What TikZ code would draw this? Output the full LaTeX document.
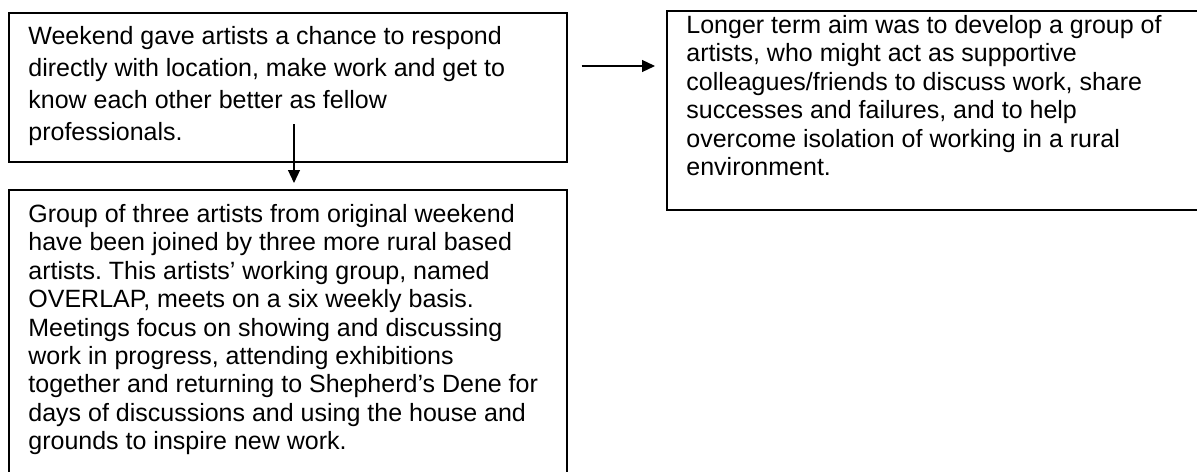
\documentclass[tikz,border=0pt]{standalone}
\usepackage{fontspec}
\setmainfont{Liberation Sans}
\usetikzlibrary{arrows.meta}
\frenchspacing

\begin{document}
\begin{tikzpicture}[x=0.5pt, y=-0.5pt,
    caja/.style={draw, line width=0.8pt, inner sep=0pt, anchor=north west},
    texto/.style={anchor=north west, inner sep=0pt, align=left,
        font=\fontsize{12.5pt}{14.2pt}\selectfont},
    flecha/.style={-{Triangle[length=6.5pt,width=6pt]}, line width=0.6pt}]
    \useasboundingbox (0,0) rectangle (1197,471);
    \clip (0,0) rectangle (1197,471);

    % Cajas
    \node[caja, minimum width=279pt, minimum height=74.5pt] (semana) at (8,12) {};
    \node[caja, minimum width=279pt, minimum height=156pt] (grupo) at (8,189) {};
    \node[caja, minimum width=290pt, minimum height=99.5pt] (meta) at (666,10) {};

    % Textos
    \node[texto, font=\fontsize{12.5pt}{16pt}\selectfont] (semanatxt) at (28,26) {Weekend gave artists a chance to respond\\
        directly with location, make work and get to\\
        know each other better as fellow\\
        professionals.};
    \node[texto] (grupotxt) at (28,204) {Group of three artists from original weekend\\
        have been joined by three more rural based\\
        artists. This artists’ working group, named\\
        OVERLAP, meets on a six weekly basis.\\
        Meetings focus on showing and discussing\\
        work in progress, attending exhibitions\\
        together and returning to Shepherd’s Dene for\\
        days of discussions and using the house and\\
        grounds to inspire new work.};
    \node[texto] (metatxt) at (686,15) {Longer term aim was to develop a group of\\
        artists, who might act as supportive\\
        colleagues/friends to discuss work, share\\
        successes and failures, and to help\\
        overcome isolation of working in a rural\\
        environment.};

    % Flechas
    \coordinate (bajada) at (294,124);
    \coordinate (nivel) at (0,66);
    \draw[flecha, shorten >=3pt] (bajada) -- (bajada |- grupo.north);
    \draw[flecha, shorten <=7pt, shorten >=5.5pt] (semana.east |- nivel) -- (meta.west |- nivel);
\end{tikzpicture}
\end{document}
